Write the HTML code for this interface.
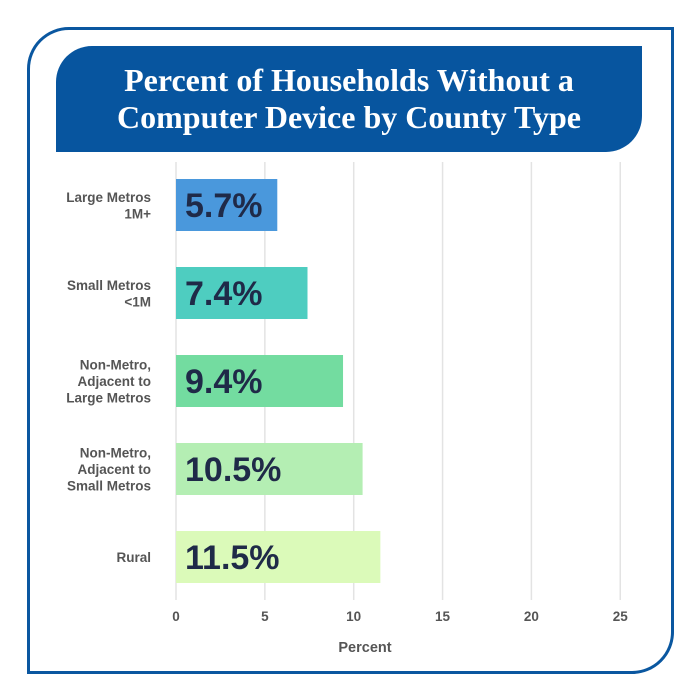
<!DOCTYPE html>
<html><head><meta charset="utf-8"><style>
body{margin:0;width:700px;height:700px;background:#fff;overflow:hidden;font-family:"Liberation Sans",sans-serif}
#frame{position:absolute;left:27px;top:27px;width:641px;height:641px;border:3px solid #0a57a0;border-radius:42px 0 42px 0;box-sizing:content-box}
#banner{position:absolute;left:56px;top:46px;width:586px;height:106px;background:#07559f;border-radius:36px 0 36px 0;color:#fff;font-family:"Liberation Serif",serif;font-weight:bold;font-size:32px;line-height:37px;text-align:center;display:flex;align-items:center;justify-content:center}
svg{position:absolute;left:0;top:0}
</style></head><body>
<div id="frame"></div>
<div id="banner">Percent of Households Without a<br>Computer Device by County Type</div>
<svg id="chart" width="700" height="700"></svg>
<script>
const categories=[["Large Metros","1M+"],["Small Metros","<1M"],["Non-Metro,","Adjacent to","Large Metros"],["Non-Metro,","Adjacent to","Small Metros"],["Rural"]];
const values=[5.7,7.4,9.4,10.5,11.5];
const valueLabels=["5.7%","7.4%","9.4%","10.5%","11.5%"];
const ticks=[0,5,10,15,20,25];
const colors=["#4a98dc","#4ecdc0","#73dca0","#b4eeb3","#dbfab9"];
const NS="http://www.w3.org/2000/svg";
const svg=document.getElementById('chart');
const x0=176,pxPer=17.77,rowTop=179,rowStep=88,barH=52;
const xs=v=>x0+v*pxPer;
function mk(t,a){const e=document.createElementNS(NS,t);for(const k in a)e.setAttribute(k,a[k]);svg.appendChild(e);return e;}
ticks.forEach((t,i)=>{
 const l=mk('line',{x1:xs(t),x2:xs(t),y1:162,y2:600,stroke:'#e3e3e3','stroke-width':1.5});
 
 
 const tx=mk('text',{x:xs(t),y:621,'text-anchor':'middle','font-size':13.5,'font-weight':'bold',fill:'#555'});
 tx.textContent=t;
 
 
});
values.forEach((v,i)=>{
 const y=rowTop+i*rowStep;
 const r=mk('rect',{x:x0,y:y,width:xs(v)-x0,height:barH,fill:colors[i]});
 
 
 const t=mk('text',{x:x0+9,y:y+barH/2+12,'font-size':34,'font-weight':'bold',fill:'#1f2a48'});
 t.textContent=valueLabels[i];
 
 
 const lines=categories[i],lh=16.5,cy=y+barH/2;
 lines.forEach((s,j)=>{
  const c=mk('text',{x:151,y:cy-(lines.length-1)*lh/2+j*lh+5,'text-anchor':'end','font-size':13.5,'font-weight':'bold',fill:'#555'});
  c.textContent=s;
  
  
 });
});
const xt=mk('text',{x:365,y:652,'text-anchor':'middle','font-size':14.5,'font-weight':'bold',fill:'#555'});
xt.textContent='Percent';


</script>
</body></html>
